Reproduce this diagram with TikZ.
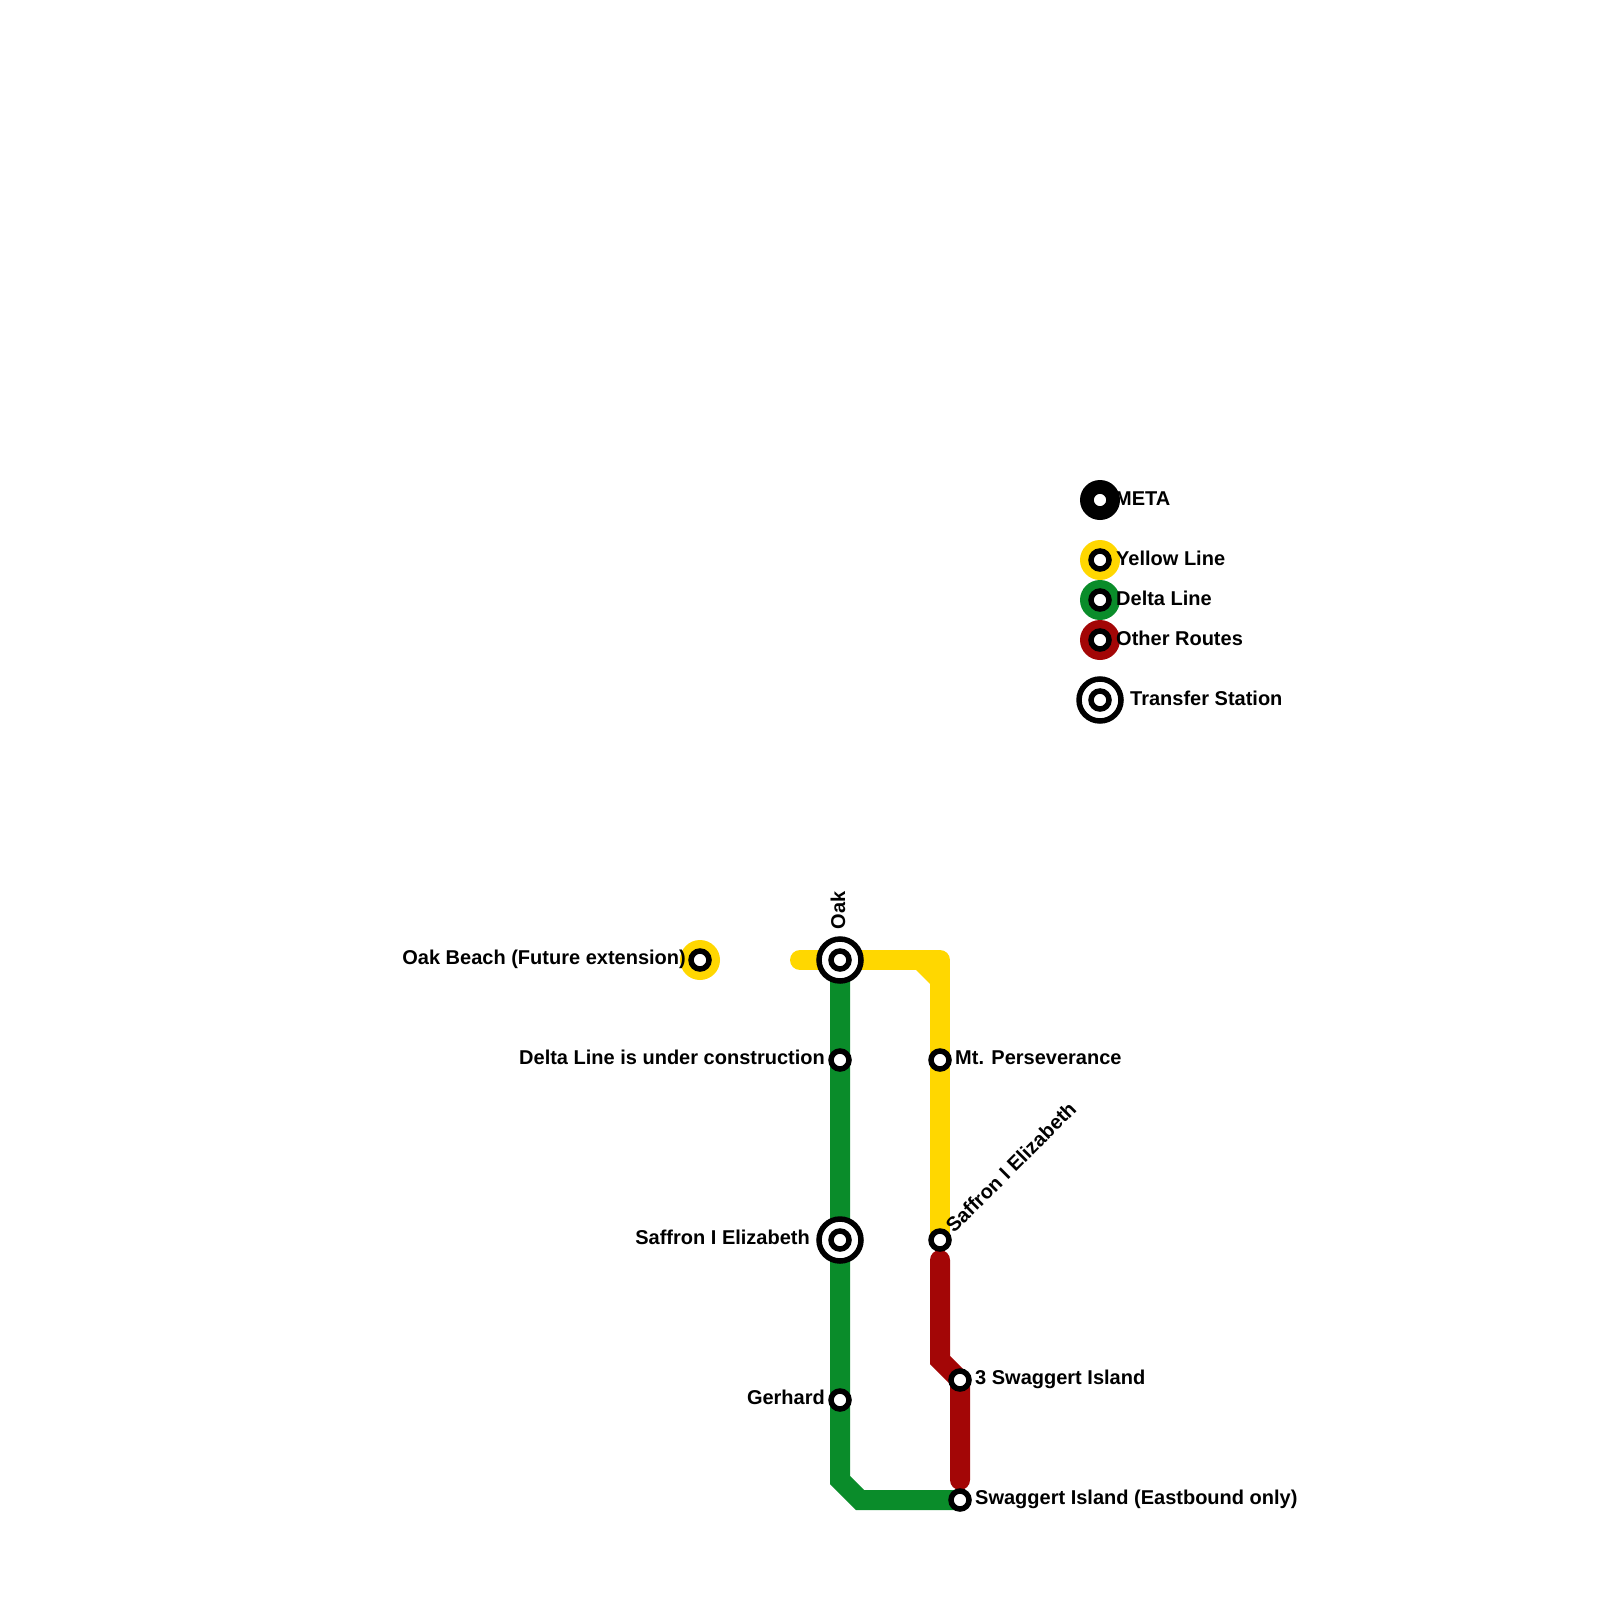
\documentclass[tikz,border=0pt]{standalone}
\usepackage{fontspec}
\setmainfont{Liberation Sans}
\definecolor{yel}{HTML}{FFD700}
\definecolor{grn}{HTML}{0A8C2A}
\definecolor{rd}{HTML}{A30606}
\tikzset{
  route/.style={line width=20pt,miter limit=10},
  stn/.style={circle,draw=black,fill=white,line width=5.5pt,minimum size=18pt,inner sep=0pt},
  xfer/.style={circle,draw=black,fill=white,line width=5.5pt,minimum size=42pt,inner sep=0pt},
  disc/.style={circle,minimum size=40pt,inner sep=0pt},
  lbl/.style={font=\fontsize{20}{22}\selectfont\bfseries,inner sep=0pt,text=black}
}
\begin{document}
\begin{tikzpicture}[x=1pt,y=-1pt]
\useasboundingbox (0,0) rectangle (1600,1600);
\coordinate (oakb) at (700,960);
\coordinate (ystart) at (800,960);
\coordinate (oak) at (840,960);
\coordinate (ycorner) at (940,960);
\coordinate (delta) at (840,1060);
\coordinate (mt) at (940,1060);
\coordinate (safg) at (840,1240);
\coordinate (safy) at (940,1240);
\coordinate (gerh) at (840,1400);
\coordinate (gbend1) at (840,1480);
\coordinate (gbend2) at (860,1500);
\coordinate (swag) at (960,1500);
\coordinate (rstart) at (940,1260);
\coordinate (rbend) at (940,1360);
\coordinate (swag3) at (960,1380);
\coordinate (rend) at (960,1480);
\coordinate (lmeta) at (1100,500);
\coordinate (lyel) at (1100,560);
\coordinate (ldel) at (1100,600);
\coordinate (loth) at (1100,640);
\coordinate (ltr) at (1100,700);
% lines
\draw[route,yel,line cap=round,line join=round] (ystart) -- (ycorner) -- (safy);
\fill[yel] (916,970) -- (930,984) -- (930,970) -- cycle;
\draw[route,grn] (oak) -- (gbend1) -- (gbend2) -- (swag);
\draw[route,rd,line cap=round] (rstart) -- (rbend) -- (swag3) -- (rend);
% legend discs
\node[disc,fill=black] (dmeta) at (lmeta) {};
\node[disc,fill=yel] (dyel) at (lyel) {};
\node[disc,fill=grn] (ddel) at (ldel) {};
\node[disc,fill=rd] (doth) at (loth) {};
\node[disc,fill=yel] (doakb) at (oakb) {};
% stations
\node[stn] (soakb) at (oakb) {};
\node[xfer] (xoak) at (oak) {};
\node[stn] (soak) at (oak) {};
\node[stn] (sdelta) at (delta) {};
\node[stn] (smt) at (mt) {};
\node[xfer] (xsafg) at (safg) {};
\node[stn] (ssafg) at (safg) {};
\node[stn] (ssafy) at (safy) {};
\node[stn] (sgerh) at (gerh) {};
\node[stn] (sswag3) at (swag3) {};
\node[stn] (sswag) at (swag) {};
\node[stn] (smeta) at (lmeta) {};
\node[stn] (syel) at (lyel) {};
\node[stn] (sdel) at (ldel) {};
\node[stn] (soth) at (loth) {};
\node[xfer] (xtr) at (ltr) {};
\node[stn] (str) at (ltr) {};
% labels
\node[lbl,anchor=base east] (toakb) at (686,964.7) {Oak Beach (Future extension)};
\node[lbl,anchor=base west,rotate=90] (toak) at (845,929.5) {Oak};
\node[lbl,anchor=base east] (tdelta) at (825,1064.7) {Delta Line is under construction};
\node[lbl,anchor=base east] (tsafg) at (810,1244.7) {Saffron I Elizabeth};
\node[lbl,anchor=base east] (tgerh) at (825,1404.7) {Gerhard};
\node[lbl,anchor=base west] (tmt) at (955,1064.7) {Mt. Perseverance};
\node[lbl,anchor=base west,rotate=45] (tsafy) at (954,1234) {Saffron I Elizabeth};
\node[lbl,anchor=base west] (tswag3) at (975,1384.7) {3 Swaggert Island};
\node[lbl,anchor=base west] (tswag) at (975,1504.7) {Swaggert Island (Eastbound only)};
\node[lbl,anchor=base west] (tmeta) at (1115,505) {META};
\node[lbl,anchor=base west] (tyel) at (1116,565) {Yellow Line};
\node[lbl,anchor=base west] (tdel) at (1116,605) {Delta Line};
\node[lbl,anchor=base west] (toth) at (1116,645) {Other Routes};
\node[lbl,anchor=base west] (ttr) at (1130,705) {Transfer Station};
\end{tikzpicture}
\end{document}
